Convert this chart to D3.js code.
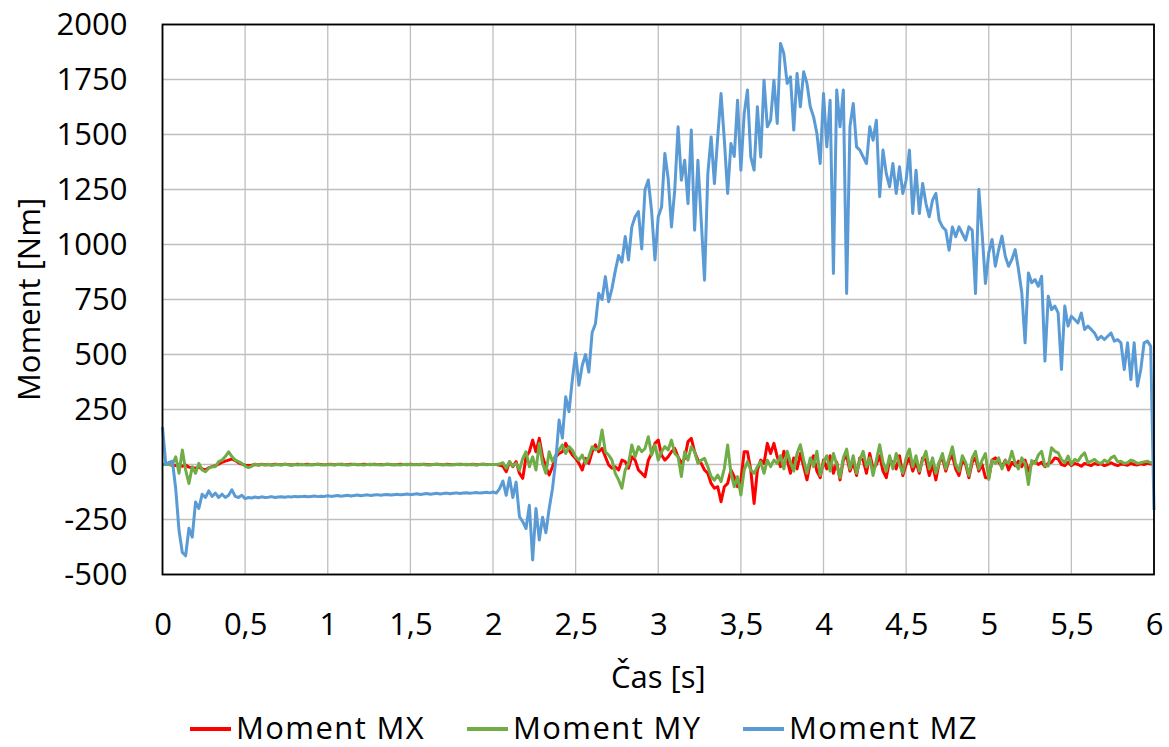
<!DOCTYPE html>
<html><head><meta charset="utf-8">
<script src="https://cdn.jsdelivr.net/npm/d3@7"></script>
<style>
body{margin:0;background:#fff}
svg{display:block}
text{font-family:"Open Sans",sans-serif;fill:#000}
</style>
</head><body>
<svg id="chart" width="1169" height="747"></svg>
<script>
// ---------------- data ----------------
const dt = 0.02;               // sample step [s]
const xTicks = [0, 0.5, 1, 1.5, 2, 2.5, 3, 3.5, 4, 4.5, 5, 5.5, 6];
const yTicks = [-500, -250, 0, 250, 500, 750, 1000, 1250, 1500, 1750, 2000];
const seriesNames = ["Moment MX", "Moment MY", "Moment MZ"];
const seriesColors = ["#ff0000", "#70ad47", "#5b9bd5"];
const xTitle = "Čas [s]";
const yTitle = "Moment [Nm]";

// Moment MX, one array per second (values every 0.02 s from that second)
const mx0 = [0,0,0,-3,-5,0,-8,-3,-12,-15,-17,-12,-20,-25,-15,-10,-5,2,10,15,20,25,18,8,2,-3,
  -5,-3,0,-2,1,-1,0,-2,1,0,-1,1,0,-2,0,1,-1,0,1,-1,0,1,0,-1];
const mx1 = [0,1,-1,0,1,0,-1,1,0,-1,0,1,0,-1,1,0,0,-1,1,0,-1,0,1,0,-1,1,0,0,-1,1,0,-1,0,1,0,-1,1,0,-1,0,1,0,-1,0,1,-1,0,1,0,0];
const mx2 = [0,0,-3,-8,-33,13,-10,13,-40,-63,35,58,111,58,119,35,-10,-48,-10,35,50,58,96,66,43,28,5,-25,28,5,58,89,58,73,35,-2,-17,-10,-25,20,13,-17,35,20,-25,-40,-55,20,50,96];
const mx3 = [111,43,20,35,58,73,35,5,28,104,119,58,20,5,-25,-40,-86,-108,-101,-169,-101,-86,-25,-55,-101,-71,58,58,-25,-177,-25,20,5,96,50,96,35,
  -10,60,20,-40,30,-20,50,-10,-70,10,40,-30,-60];
const mx4 = [20,-20,40,-40,10,-70,20,40,-30,10,-50,30,20,-40,50,-20,0,40,-30,-60,20,10,-20,40,-50,0,30,-30,10,-40,30,20,-50,0,-70,10,30,-30,20,40,-20,-50,20,0,-60,10,30,-30,0,-60];
const mx5 = [-60,20,30,10,-10,20,-25,10,-5,15,-10,20,-30,5,15,0,10,-10,5,10,30,25,0,-5,10,-5,5,0,-8,5,0,-5,5,0,3,-5,0,8,0,-5,2,0,-3,5,0,-2,3,0,5,2,5];

// Moment MY
const my0 = [0,0,0,0,35,-40,66,-25,-86,-10,-40,5,-25,-33,-17,-10,-10,13,20,36,58,36,20,13,5,-7,
  -14,-8,2,-3,0,-2,1,-3,-1,0,-2,1,-1,-3,0,-2,1,-1,-2,0,-1,1,-2,0];
const my1 = [-1,0,-2,1,-1,0,-2,-1,1,0,-1,-2,0,1,-1,0,-2,0,1,-1,0,-1,-2,0,1,-1,0,-1,1,0,-2,-1,0,1,-1,0,-1,-2,0,1,-1,0,1,-1,0,-2,0,1,-1,0];
const my2 = [0,0,2,8,-17,13,-7,5,-25,28,58,-10,35,-25,96,5,-40,58,13,43,66,89,50,81,66,35,20,43,5,35,81,66,73,157,58,43,20,-40,-70,-108,-25,5,89,35,81,58,73,126,43,89];
const my3 = [20,58,81,66,111,50,35,-55,58,20,81,58,5,20,28,-10,-55,-71,-48,-78,-17,89,-40,-101,-55,-139,-25,13,-25,-40,-10,13,-40,20,-10,20,5,
  40,-20,60,10,-30,50,90,20,-40,30,-10,60,-50];
const my4 = [10,40,-30,50,0,-60,30,70,-20,40,-40,20,60,-10,30,-50,20,90,10,-30,40,-20,50,0,-40,30,70,-10,40,-30,20,60,-20,30,-40,10,50,-20,30,80,0,-30,40,10,-50,30,60,-20,20,50];
const my5 = [-68,18,5,30,-20,18,5,60,5,-20,30,5,-91,18,5,43,60,-7,-7,76,60,53,23,8,38,0,23,15,38,53,8,15,23,10,5,20,10,30,38,12,15,5,8,20,15,5,8,12,15,8,10];

// Moment MZ
const mz0 = [170,0,10,15,-110,-300,-400,-415,-290,-330,-170,-200,-135,-150,-120,-145,-130,-150,-135,-150,-140,-115,-145,-150,-140,-155,
  -150,-152,-148,-151,-147,-150,-149,-146,-150,-148,-147,-149,-146,-148,-145,-147,-146,-144,-147,-145,-143,-146,-144,-145];
const mz1 = [-142,-145,-143,-141,-144,-142,-140,-143,-141,-139,-142,-140,-138,-141,-139,-137,-140,-138,-136,-139,-137,-135,-138,-136,-134,-137,-135,-133,-136,-134,-132,-135,-133,-131,-134,-132,-130,-133,-131,-129,-132,-130,-128,-131,-129,-127,-130,-128,-126,-129];
const mz2 = [-125,-130,-110,-75,-140,-60,-150,-80,-237,-260,-291,-185,-434,-200,-343,-240,-310,-200,-110,20,202,120,308,240,384,506,360,450,500,420,600,640,778,750,854,740,800,880,950,920,1036,930,1080,1126,1150,980,1250,1293,1150,930];
const mz3 = [1126,1170,1414,1300,1080,1250,1535,1292,1383,1186,1520,1065,1383,1110,838,1322,1489,1277,1489,1686,1474,1232,1459,1400,1656,1338,1595,1702,1398,1338,1626,1398,1747,1535,1565,1747,1550,1914,1868,1732,1762,1520,1777,1626,1785,1732,1626,1580,1505,1368];
const mz4 = [1686,1444,1656,868,1702,1535,1702,777,1535,1641,1444,1429,1398,1368,1535,1474,1565,1217,1429,1322,1262,1368,1232,1353,1232,1292,1429,1141,1338,1141,1277,1186,1126,1202,1232,1111,1080,1065,974,1080,1035,1080,1050,1020,1080,1065,777,1250,1050,823];
const mz5 = [962,1023,901,977,1038,947,901,932,977,886,780,553,871,826,841,810,856,470,765,704,720,689,432,720,629,674,659,644,689,614,629,614,598,568,583,568,583,598,561,568,553,432,553,386,553,356,432,553,561,538,-207];

const chunksMX = [mx0, mx1, mx2, mx3, mx4, mx5];
const chunksMY = [my0, my1, my2, my3, my4, my5];
const chunksMZ = [mz0, mz1, mz2, mz3, mz4, mz5];

function build(chunks) {
  const out = [];
  chunks.forEach((arr, s) => arr.forEach((v, i) => out.push({t: s + i * dt, v})));
  return out;
}
const series = [build(chunksMX), build(chunksMY), build(chunksMZ)];

// ---------------- drawing ----------------
const svg = d3.select("#chart");
const L = 162.5, R = 1154, T = 24.5, B = 574.5;
const x = d3.scaleLinear().domain([0, 6]).range([L, R]);
const y = d3.scaleLinear().domain([-500, 2000]).range([B, T]);
const FS = 31;
const fmtX = d => String(d).replace(".", ",");
const fmtY = d => String(d);

// gridlines
const grid = svg.append("g");
grid.selectAll(".gx").data(xTicks).join("line")
  .attr("x1", d => x(d)).attr("x2", d => x(d)).attr("y1", T).attr("y2", B)
  .attr("stroke", "#bfbfbf").attr("stroke-width", 1.3);
grid.selectAll(".gy").data(yTicks).join("line")
  .attr("y1", d => y(d)).attr("y2", d => y(d)).attr("x1", L).attr("x2", R)
  .attr("stroke", "#bfbfbf").attr("stroke-width", 1.3);

// axes (labels only)
const ax = svg.append("g").attr("transform", `translate(0,${B})`)
  .call(d3.axisBottom(x).tickValues(xTicks).tickFormat(fmtX).tickSize(0).tickPadding(38));
const ay = svg.append("g").attr("transform", `translate(${L},0)`)
  .call(d3.axisLeft(y).tickValues(yTicks).tickFormat(fmtY).tickSize(0).tickPadding(35));
[ax, ay].forEach(g => {
  g.select(".domain").remove();
  g.selectAll("text").attr("font-family", '"Open Sans",sans-serif').attr("font-size", FS).attr("fill", "#000");
});

// lines
const line = d3.line().x(d => x(d.t)).y(d => y(d.v));
const plot = svg.append("g");
series.forEach((s, i) => {
  plot.append("path").datum(s).attr("d", line)
    .attr("fill", "none").attr("stroke", seriesColors[i])
    .attr("stroke-width", 3).attr("stroke-linejoin", "round");
});

// frame
svg.append("rect").attr("x", L).attr("y", T).attr("width", R - L).attr("height", B - T)
  .attr("fill", "none").attr("stroke", "#000").attr("stroke-width", 1.8);

// titles
svg.append("text").attr("x", (L + R) / 2).attr("y", 676)
  .attr("text-anchor", "middle").attr("dominant-baseline", "central")
  .attr("font-size", FS).text(xTitle);
svg.append("text").attr("transform", `translate(28,${(T + B) / 2}) rotate(-90)`)
  .attr("text-anchor", "middle").attr("dominant-baseline", "central")
  .attr("font-size", FS).text(yTitle);

// legend
const legX = [190, 467, 743];
const legY = 727;
const leg = svg.append("g");
seriesNames.forEach((n, i) => {
  leg.append("line").attr("x1", legX[i]).attr("x2", legX[i] + 41)
    .attr("y1", legY + 2).attr("y2", legY + 2)
    .attr("stroke", seriesColors[i]).attr("stroke-width", 4);
  leg.append("text").attr("x", legX[i] + 46).attr("y", legY)
    .attr("dominant-baseline", "central").attr("font-size", FS)
    .attr("letter-spacing", 1.4).text(n);
});
</script>
</body></html>
